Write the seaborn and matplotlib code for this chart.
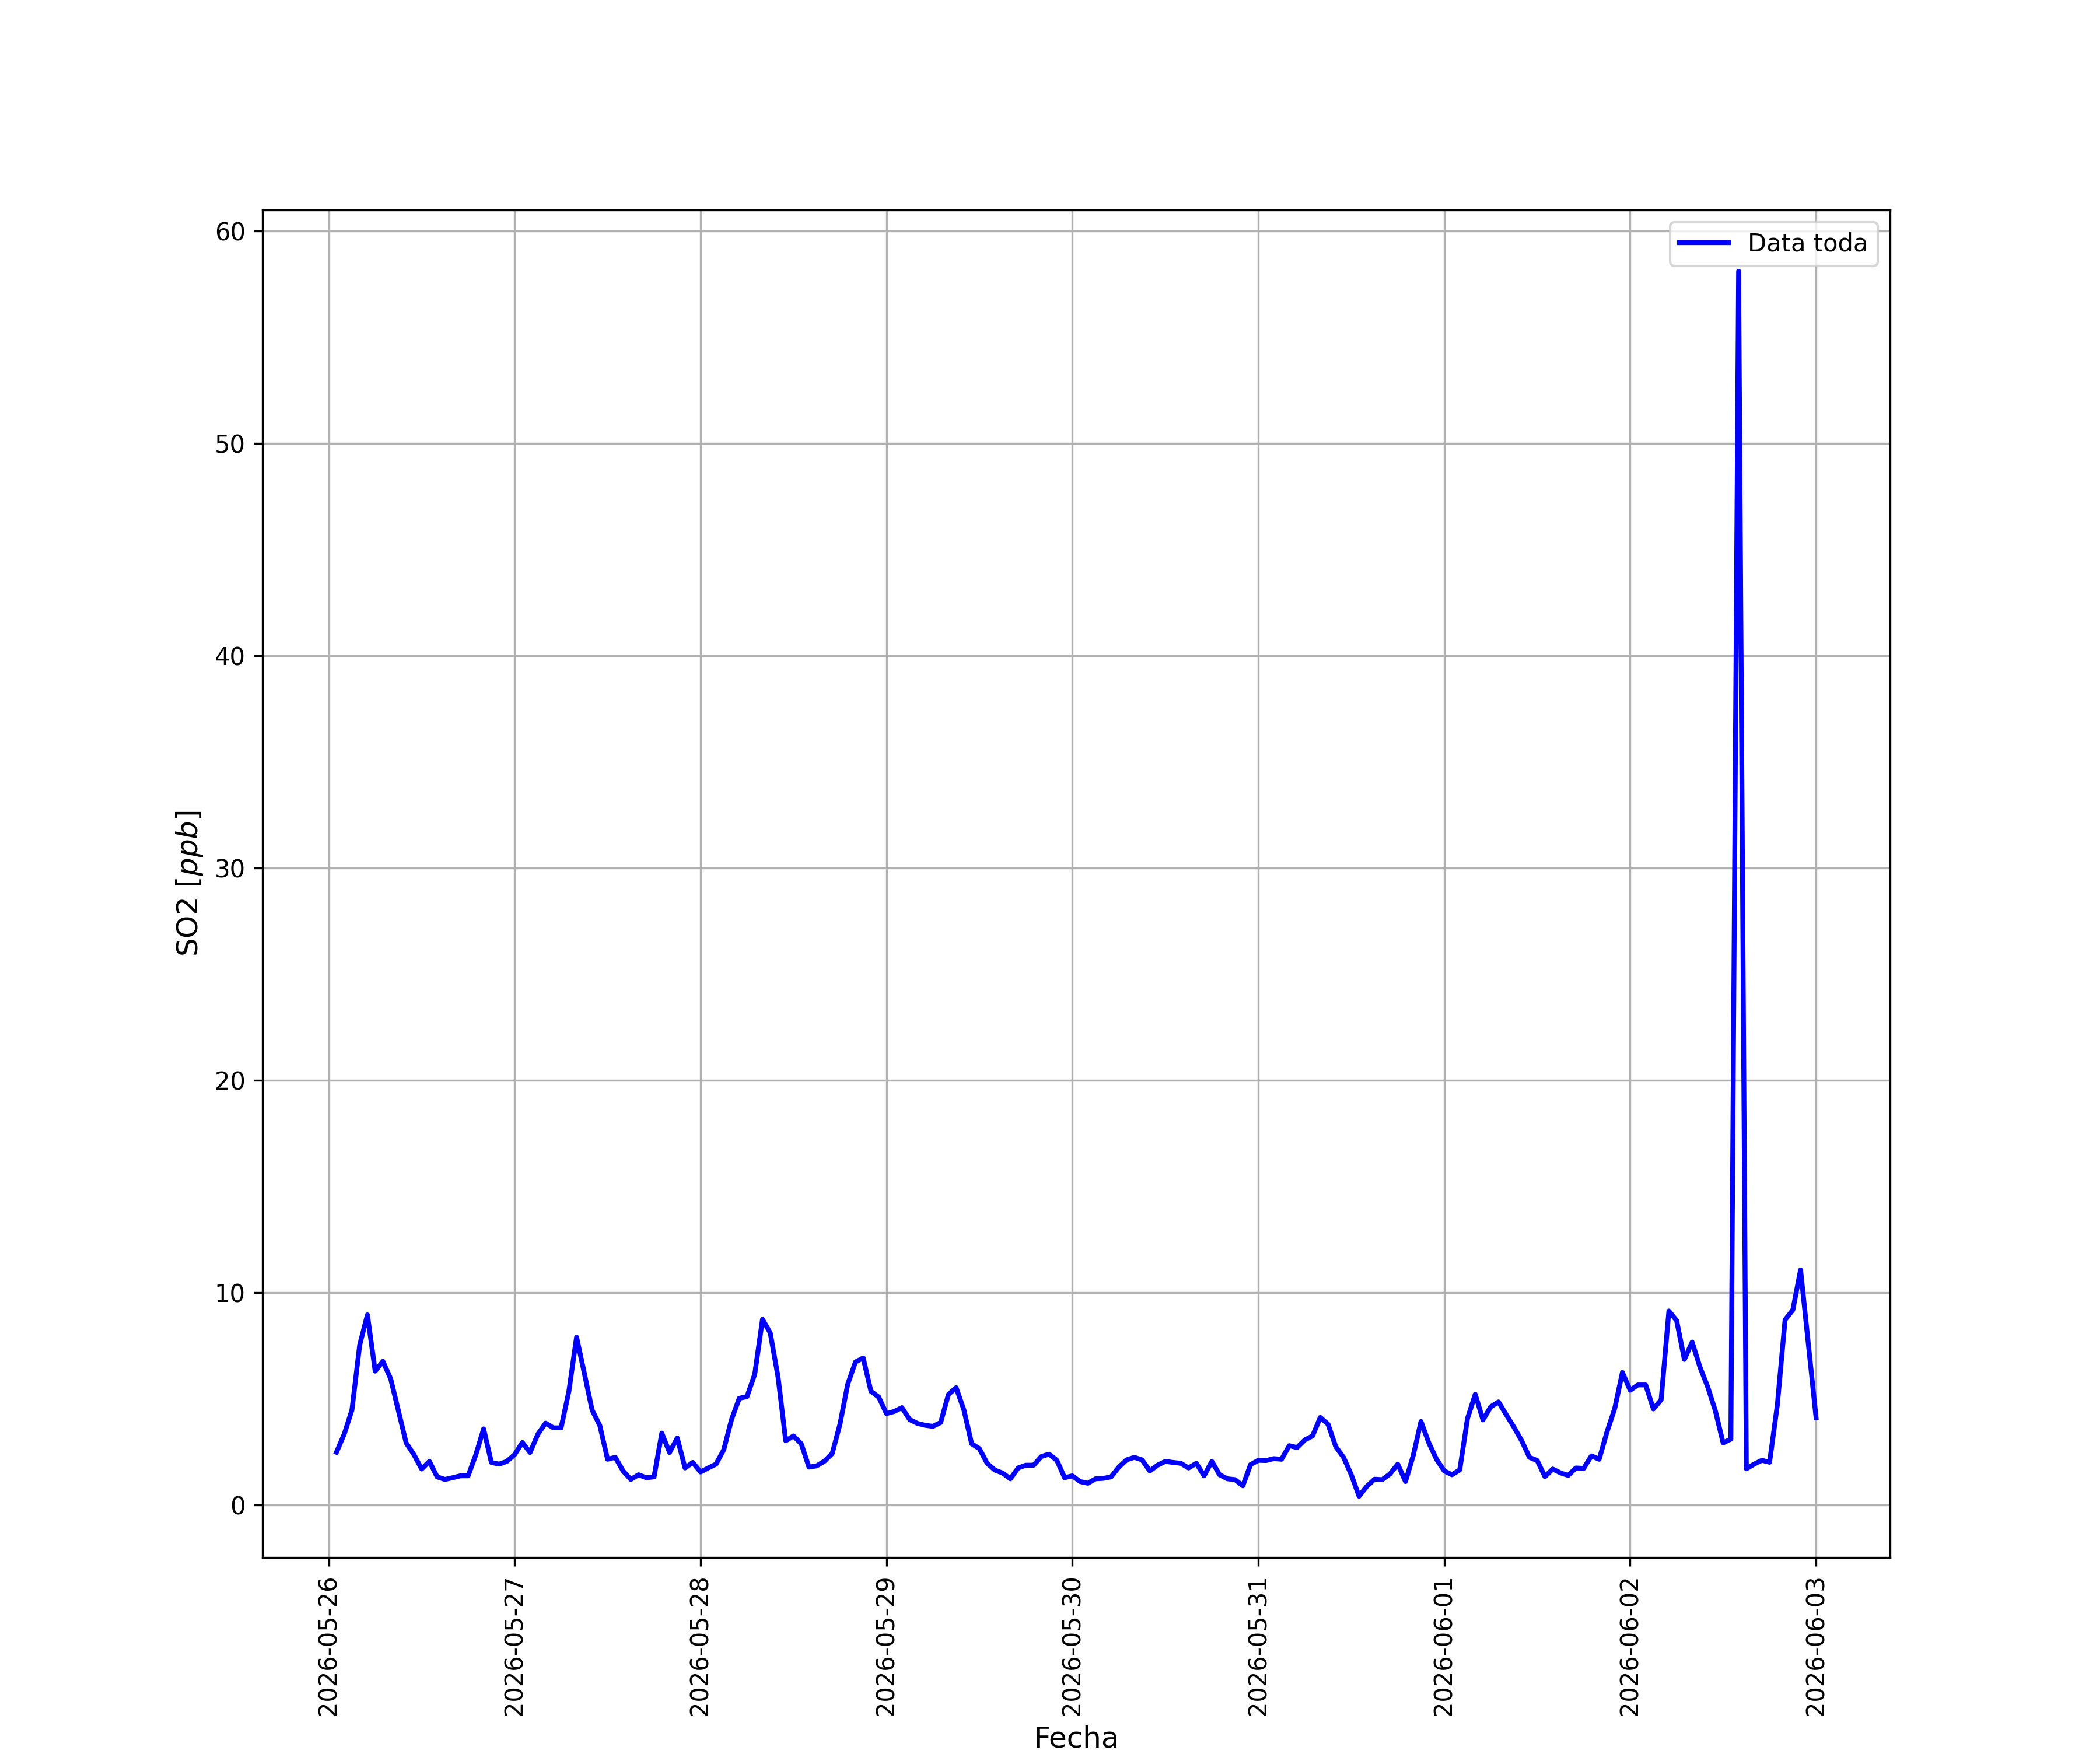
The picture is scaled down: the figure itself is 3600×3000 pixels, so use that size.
import matplotlib
matplotlib.use("Agg")
import matplotlib.pyplot as plt
import matplotlib.dates as mdates
import seaborn as sns
import numpy as np
import pandas as pd

# SO2 horario (ppb), 2026-05-26 01:00 -> 2026-06-03 00:00
inicio = "2026-05-26 01:00"
so2_dia1 = [2.48, 3.33, 4.47, 7.53, 8.95, 6.30, 6.76, 5.94, 4.43, 2.92, 2.37, 1.69,
            2.05, 1.32, 1.20, 1.28, 1.37, 1.37, 2.37, 3.58, 2.00, 1.92, 2.05, 2.37]
so2_dia2 = [2.94, 2.47, 3.33, 3.85, 3.63, 3.63, 5.34, 7.90, 6.20, 4.47, 3.74, 2.15,
            2.24, 1.60, 1.20, 1.42, 1.28, 1.32, 3.38, 2.47, 3.15, 1.74, 2.00, 1.55]
so2_dia3 = [1.74, 1.92, 2.60, 4.02, 5.02, 5.10, 6.16, 8.74, 8.10, 6.04, 3.02, 3.25,
            2.88, 1.78, 1.84, 2.06, 2.42, 3.80, 5.68, 6.73, 6.92, 5.35, 5.08, 4.30]
so2_dia4 = [4.40, 4.58, 4.02, 3.84, 3.75, 3.70, 3.88, 5.20, 5.52, 4.47, 2.88, 2.65,
            1.96, 1.64, 1.50, 1.23, 1.74, 1.87, 1.87, 2.28, 2.39, 2.10, 1.28, 1.37]
so2_dia5 = [1.10, 1.02, 1.23, 1.25, 1.32, 1.78, 2.12, 2.24, 2.12, 1.60, 1.87, 2.05,
            2.00, 1.96, 1.74, 1.96, 1.37, 2.05, 1.42, 1.23, 1.19, 0.90, 1.90, 2.10]
so2_dia6 = [2.09, 2.18, 2.15, 2.79, 2.70, 3.06, 3.25, 4.12, 3.80, 2.74, 2.24, 1.42,
            0.41, 0.87, 1.21, 1.19, 1.46, 1.92, 1.10, 2.33, 3.93, 2.93, 2.15, 1.60]
so2_dia7 = [1.42, 1.65, 4.07, 5.21, 4.00, 4.62, 4.85, 4.25, 3.66, 3.02, 2.24, 2.09,
            1.33, 1.69, 1.51, 1.39, 1.74, 1.72, 2.31, 2.15, 3.43, 4.53, 6.24, 5.40]
so2_dia8 = [5.65, 5.65, 4.52, 4.95, 9.13, 8.68, 6.85, 7.67, 6.50, 5.57, 4.43, 2.92,
            3.10, 58.1, 1.70, 1.92, 2.10, 2.01, 4.70, 8.72, 9.18, 11.07, 7.60, 4.11]

so2 = np.array(so2_dia1 + so2_dia2 + so2_dia3 + so2_dia4 +
               so2_dia5 + so2_dia6 + so2_dia7 + so2_dia8)
fechas = pd.date_range(inicio, periods=len(so2), freq="h")

df = pd.DataFrame({"Fecha": fechas, "SO2": so2})

fig, ax = plt.subplots(figsize=(12, 10), dpi=300)
sns.lineplot(data=df, x="Fecha", y="SO2", color="blue", linewidth=2,
             label="Data toda", ax=ax)

ax.xaxis.set_major_locator(mdates.DayLocator())
ax.xaxis.set_major_formatter(mdates.DateFormatter("%Y-%m-%d"))
plt.xticks(rotation=90)
ax.set_xlabel("Fecha", fontsize=12)
ax.set_ylabel("SO2 [$ppb$]", fontsize=12)
ax.grid(True)
ax.legend(loc="upper right")

fig.savefig("out.png", dpi=300)
